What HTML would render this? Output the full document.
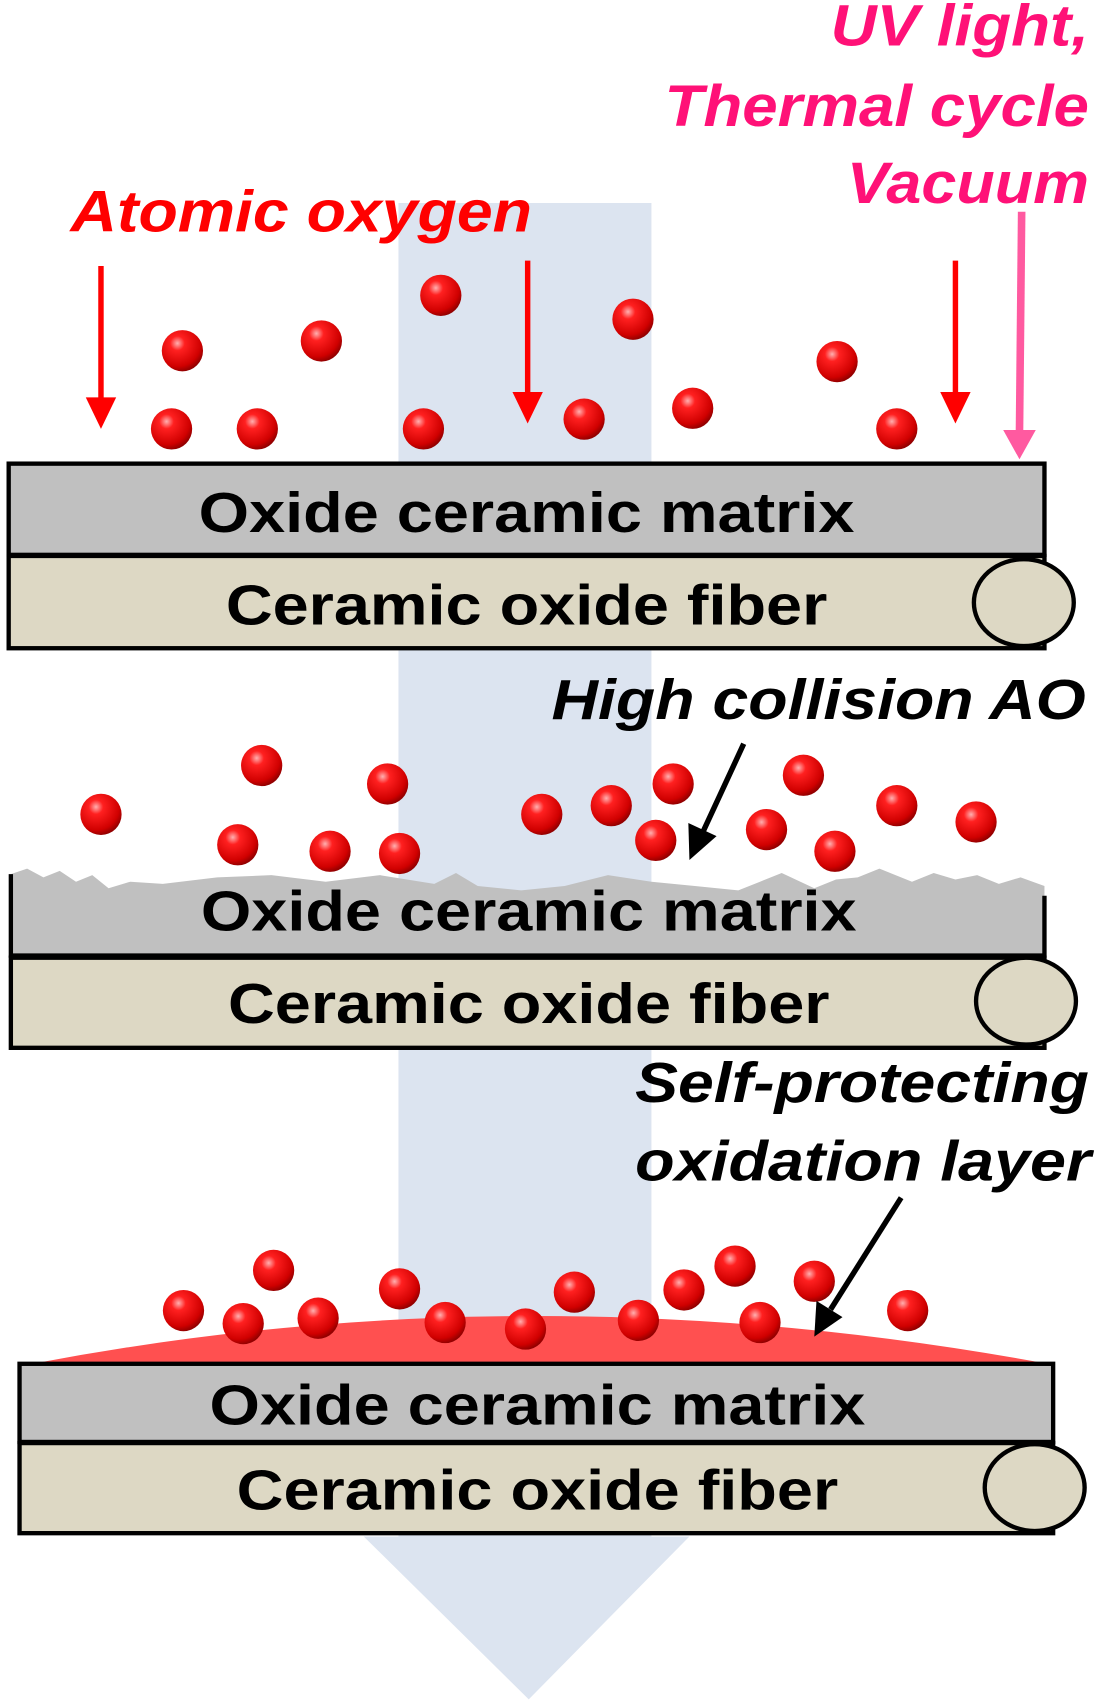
<!DOCTYPE html>
<html><head><meta charset="utf-8"><style>html,body{margin:0;padding:0;background:#fff}svg{display:block}</style></head>
<body>
<svg width="1102" height="1708" viewBox="0 0 1015 1573" preserveAspectRatio="none" xmlns="http://www.w3.org/2000/svg" font-family="Liberation Sans, Arial, sans-serif" font-weight="bold">
<defs>
<radialGradient id="b" cx="0.38" cy="0.32" r="0.7">
<stop offset="0" stop-color="#ffb0b0"/><stop offset="0.25" stop-color="#ff2020"/><stop offset="0.8" stop-color="#d00000"/><stop offset="1" stop-color="#900000"/>
</radialGradient>
<g id="ball"><circle r="19" fill="url(#b)"/></g>
</defs>
<polygon points="367,187 600,187 600,1415 635,1415 487,1565 335,1415 367,1415" fill="#dce4f0"/>

<text x="65" y="213" font-size="54" font-style="italic" fill="#ff0000" textLength="425" lengthAdjust="spacingAndGlyphs">Atomic oxygen</text>
<g font-size="54" font-style="italic" fill="#ff1177">
<text x="765" y="42" textLength="238" lengthAdjust="spacingAndGlyphs">UV light,</text>
<text x="612" y="116" textLength="391" lengthAdjust="spacingAndGlyphs">Thermal cycle</text>
<text x="780" y="187" textLength="223" lengthAdjust="spacingAndGlyphs">Vacuum</text>
</g>
<g font-size="52" font-style="italic" fill="#000">
<text x="508" y="662" textLength="492" lengthAdjust="spacingAndGlyphs">High collision AO</text>
<text x="585" y="1015" textLength="418" lengthAdjust="spacingAndGlyphs">Self-protecting</text>
<text x="585" y="1087" textLength="420" lengthAdjust="spacingAndGlyphs">oxidation layer</text>
</g>

<g stroke="#ff0000" stroke-width="5" fill="#ff0000">
<line x1="93" y1="245" x2="93" y2="368"/><polygon points="79,366 107,366 93,395" stroke="none"/>
<line x1="486" y1="240" x2="486" y2="363"/><polygon points="472,361 500,361 486,390" stroke="none"/>
<line x1="880" y1="240" x2="880" y2="363"/><polygon points="866,361 894,361 880,390" stroke="none"/>
</g>
<line x1="941" y1="195" x2="939" y2="398" stroke="#ff5aa0" stroke-width="7"/>
<polygon points="924,396 954,396 939,423" fill="#ff5aa0"/>

<rect x="8" y="427" width="954" height="84" fill="#c0c0c0" stroke="#000" stroke-width="4"/>
<rect x="8" y="512" width="954" height="85" fill="#ddd8c4" stroke="#000" stroke-width="4"/>
<ellipse cx="943" cy="555" rx="46" ry="40" fill="#ddd8c4" stroke="#000" stroke-width="4"/>
<text x="183" y="490" font-size="52" textLength="604" lengthAdjust="spacingAndGlyphs">Oxide ceramic matrix</text>
<text x="208" y="575" font-size="52" textLength="554" lengthAdjust="spacingAndGlyphs">Ceramic oxide fiber</text>

<polygon points="10,880 10,805 25,800 40,808 55,802 70,812 85,806 100,818 120,812 150,814 200,808 250,806 300,812 350,806 400,814 420,804 440,816 480,820 520,816 560,806 600,812 640,816 680,820 700,812 720,804 750,818 770,810 790,808 810,800 840,812 860,804 880,810 900,806 920,814 940,808 962,816 962,880" fill="#c0c0c0"/>
<polyline points="10,805 10,880 962,880 962,825" fill="none" stroke="#000" stroke-width="4"/>
<rect x="10" y="882" width="952" height="83" fill="#ddd8c4" stroke="#000" stroke-width="4"/>
<ellipse cx="945" cy="922" rx="46" ry="40" fill="#ddd8c4" stroke="#000" stroke-width="4"/>
<text x="185" y="857" font-size="52" textLength="604" lengthAdjust="spacingAndGlyphs">Oxide ceramic matrix</text>
<text x="210" y="942" font-size="52" textLength="554" lengthAdjust="spacingAndGlyphs">Ceramic oxide fiber</text>

<path d="M30,1256 Q490,1168 965,1256 Z" fill="#ff5050"/>
<rect x="18" y="1256" width="952" height="72" fill="#c0c0c0" stroke="#000" stroke-width="4"/>
<rect x="18" y="1329" width="952" height="83" fill="#ddd8c4" stroke="#000" stroke-width="4"/>
<ellipse cx="953" cy="1370" rx="46" ry="40" fill="#ddd8c4" stroke="#000" stroke-width="4"/>
<text x="193" y="1312" font-size="52" textLength="604" lengthAdjust="spacingAndGlyphs">Oxide ceramic matrix</text>
<text x="218" y="1390" font-size="52" textLength="554" lengthAdjust="spacingAndGlyphs">Ceramic oxide fiber</text>

<g>
<use href="#ball" x="168" y="323"/><use href="#ball" x="296" y="314"/><use href="#ball" x="406" y="272"/><use href="#ball" x="583" y="294"/><use href="#ball" x="771" y="333"/><use href="#ball" x="158" y="395"/><use href="#ball" x="237" y="395"/><use href="#ball" x="390" y="395"/><use href="#ball" x="538" y="386"/><use href="#ball" x="638" y="376"/><use href="#ball" x="826" y="395"/>
<use href="#ball" x="93" y="750"/><use href="#ball" x="241" y="705"/><use href="#ball" x="357" y="722"/><use href="#ball" x="219" y="778"/><use href="#ball" x="304" y="784"/><use href="#ball" x="368" y="786"/><use href="#ball" x="499" y="750"/><use href="#ball" x="563" y="742"/><use href="#ball" x="620" y="722"/><use href="#ball" x="604" y="774"/><use href="#ball" x="706" y="764"/><use href="#ball" x="740" y="714"/><use href="#ball" x="769" y="784"/><use href="#ball" x="826" y="742"/><use href="#ball" x="899" y="757"/>
<use href="#ball" x="169" y="1207"/><use href="#ball" x="252" y="1170"/><use href="#ball" x="224" y="1219"/><use href="#ball" x="293" y="1214"/><use href="#ball" x="368" y="1187"/><use href="#ball" x="410" y="1218"/><use href="#ball" x="484" y="1224"/><use href="#ball" x="529" y="1190"/><use href="#ball" x="588" y="1216"/><use href="#ball" x="630" y="1188"/><use href="#ball" x="677" y="1166"/><use href="#ball" x="700" y="1218"/><use href="#ball" x="750" y="1180"/><use href="#ball" x="836" y="1207"/>
</g>

<line x1="685" y1="685" x2="648" y2="765" stroke="#000" stroke-width="5"/>
<polygon points="634,758 660,770 635,792" fill="#000"/>
<line x1="830" y1="1103" x2="765" y2="1206" stroke="#000" stroke-width="5"/>
<polygon points="752,1198 776,1213 750,1231" fill="#000"/>
</svg>
</body></html>
